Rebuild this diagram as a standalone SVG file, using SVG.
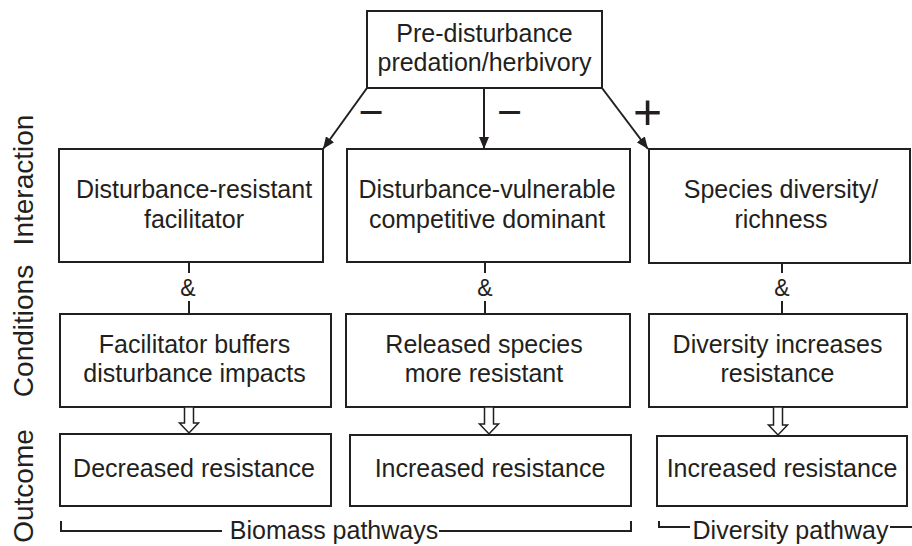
<svg xmlns="http://www.w3.org/2000/svg" width="912" height="546" viewBox="0 0 912 546">
<style>
.box{fill:#fff;stroke:#231f20;stroke-width:2}
.t{font-family:"Liberation Sans",Arial,sans-serif;font-size:25px;fill:#231f20;text-anchor:middle}
.side{font-family:"Liberation Sans",Arial,sans-serif;font-size:28px;fill:#231f20;text-anchor:middle}
.sign{font-family:"Liberation Sans",Arial,sans-serif;fill:#231f20;text-anchor:middle}
.ln{fill:none;stroke:#231f20;stroke-width:2}
.hollow{fill:#fff;stroke:#231f20;stroke-width:1.5;stroke-linejoin:miter}
</style>
<defs>
<marker id="ah" viewBox="0 0 12 10" refX="12" refY="5" markerWidth="12" markerHeight="10" markerUnits="userSpaceOnUse" orient="auto">
<path d="M0,0 L12,5 L0,10 z" fill="#231f20"/>
</marker>
</defs>

<g id="labels">
<text class="side" transform="translate(33,180) rotate(-90)">Interaction</text>
<text class="side" transform="translate(33,331) rotate(-90)">Conditions</text>
<text class="side" transform="translate(33,486) rotate(-90)">Outcome</text>
</g>

<g id="top">
<rect class="box" x="367" y="11" width="235" height="77"/>
<text class="t" x="484.5" y="42">Pre-disturbance</text>
<text class="t" x="484.5" y="71">predation/herbivory</text>
</g>

<g id="interaction1">
<rect class="box" x="59" y="149" width="264" height="113"/>
<text class="t" x="194" y="198">Disturbance-resistant</text>
<text class="t" x="194" y="228">facilitator</text>
</g>
<g id="interaction2">
<rect class="box" x="347" y="149" width="283" height="113"/>
<text class="t" x="487" y="198">Disturbance-vulnerable</text>
<text class="t" x="487" y="228">competitive dominant</text>
</g>
<g id="interaction3">
<rect class="box" x="649" y="149" width="261" height="114"/>
<text class="t" x="781" y="198">Species diversity/</text>
<text class="t" x="781" y="228">richness</text>
</g>

<g id="conditions1">
<rect class="box" x="60" y="314" width="271" height="93"/>
<text class="t" x="194.5" y="353">Facilitator buffers</text>
<text class="t" x="194.5" y="382">disturbance impacts</text>
</g>
<g id="conditions2">
<rect class="box" x="346" y="314" width="284" height="93"/>
<text class="t" x="484" y="353">Released species</text>
<text class="t" x="484" y="382">more resistant</text>
</g>
<g id="conditions3">
<rect class="box" x="649" y="314" width="258" height="93"/>
<text class="t" x="777.5" y="353">Diversity increases</text>
<text class="t" x="777.5" y="382">resistance</text>
</g>

<g id="outcome1">
<rect class="box" x="60" y="434" width="271" height="72"/>
<text class="t" x="194" y="477">Decreased resistance</text>
</g>
<g id="outcome2">
<rect class="box" x="350" y="435" width="281" height="71"/>
<text class="t" x="490" y="477">Increased resistance</text>
</g>
<g id="outcome3">
<rect class="box" x="657" y="436" width="250" height="70"/>
<text class="t" x="782" y="477">Increased resistance</text>
</g>

<g id="connectors">
<line class="ln" x1="367" y1="88" x2="323" y2="149" marker-end="url(#ah)"/>
<line class="ln" x1="484" y1="88" x2="484" y2="149" marker-end="url(#ah)"/>
<line class="ln" x1="602" y1="88" x2="648" y2="149" marker-end="url(#ah)"/>
<text class="sign" font-size="43" x="371" y="127">−</text>
<text class="sign" font-size="43" x="509.5" y="127">−</text>
<text class="sign" font-size="50" x="647.5" y="128.5">+</text>

<line class="ln" x1="189" y1="262" x2="189" y2="273"/>
<line class="ln" x1="189" y1="301" x2="189" y2="314"/>
<text class="t" font-size="23" x="188" y="296" style="font-size:23px">&amp;</text>
<line class="ln" x1="485" y1="262" x2="485" y2="273"/>
<line class="ln" x1="485" y1="301" x2="485" y2="314"/>
<text class="t" x="485" y="296" style="font-size:23px">&amp;</text>
<line class="ln" x1="782" y1="263" x2="782" y2="273"/>
<line class="ln" x1="782" y1="301" x2="782" y2="314"/>
<text class="t" x="782" y="296" style="font-size:23px">&amp;</text>

<polygon class="hollow" points="184.5,407 193.5,407 193.5,423 198.5,423 189,433 179.5,423 184.5,423"/>
<polygon class="hollow" points="484.5,407 493.5,407 493.5,424 498.5,424 489,434 479.5,424 484.5,424"/>
<polygon class="hollow" points="773.5,407 782.5,407 782.5,425 787.5,425 778,435 768.5,425 773.5,425"/>

<polyline class="ln" points="61,521 61,531 222,531"/>
<text class="t" x="334" y="539">Biomass pathways</text>
<polyline class="ln" points="439,531 631,531 631,521"/>
<polyline class="ln" points="659,521 659,527 690,527"/>
<text class="t" x="790.5" y="539">Diversity pathway</text>
<line class="ln" x1="890" y1="527" x2="912" y2="527"/>
</g>
</svg>
